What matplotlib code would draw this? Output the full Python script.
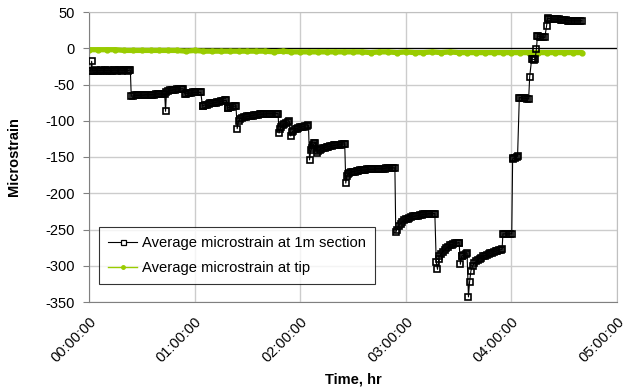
import matplotlib
matplotlib.use("Agg")
import matplotlib.pyplot as plt
from matplotlib.ticker import FixedLocator
from matplotlib.lines import Line2D

# ---- data (time in minutes from start) ----
time_1m = [0, 1, 1.5, 2, 3, 4, 5, 6, 7, 8, 9, 10, 11, 12, 13, 14, 15, 16, 17, 18, 19, 20, 21, 22, 23, 23.5,
           24, 25, 26, 27, 28, 29, 30, 31, 32, 33, 34, 35, 36, 37, 38, 39, 40, 41, 42, 43, 43.5,
           44, 45, 46, 47, 48, 49, 50, 51, 52, 53, 53.5,
           54.5, 55, 56, 57, 58, 59, 60, 61, 62, 63, 63.5,
           64.5, 65, 66, 67, 68, 69, 70, 71, 72, 73, 74, 75, 76, 77, 78,
           78.8, 79, 80, 81, 82, 83, 83.5,
           84.2, 85, 86, 87, 88, 89, 90, 91, 92, 93, 94, 95, 96, 97, 98, 99, 100, 101, 102, 103, 104, 105, 106, 107, 107.4,
           108, 108.7, 109, 110, 111, 112, 113, 113.8,
           114.6, 115.3, 116, 117, 118, 119, 120, 121, 122, 123, 124, 124.7,
           125.3, 126, 126.5, 127, 127.5, 128, 128.5,
           129.5, 130, 131, 132, 133, 134, 135, 136, 137, 138, 139, 140, 141, 142, 143, 144, 145, 145.3,
           145.9, 146.5, 147, 148, 149, 150, 151, 152, 153, 154, 155, 156, 157, 158, 159, 160, 161, 162, 163, 164,
           165, 166, 167, 168, 169, 170, 171, 172, 173, 173.8,
           174.3, 175, 176, 177, 178, 179, 180, 181, 182, 183, 184, 185, 186, 187, 188, 189, 190, 191, 192, 193,
           194, 195, 196, 196.5,
           197.3, 198, 198.8, 199, 200, 201, 202, 203, 204, 205, 206, 207, 208, 209, 210, 210.3,
           211, 211.8, 212, 213, 214, 214.8,
           215.6, 216.2, 217, 218, 219, 220, 221, 222, 223, 224, 225, 226, 227, 228, 229, 230, 231, 232, 233, 234, 234.7,
           235.2, 236, 237, 238, 239, 240.2,
           240.7, 241, 242, 243, 243.5,
           244.5, 245, 246, 247, 248, 249, 249.8,
           250.4, 251.5, 252, 253, 253.5, 254.2,
           254.8, 255, 256, 257, 258, 259,
           260, 260.6, 261, 262, 263, 264, 265, 266, 267, 268, 269, 270, 271, 272, 273, 274, 275, 276, 277, 278, 279, 280]
strain_1m = [-31, -31, -18, -31, -31, -30, -31, -31, -30, -31, -30, -31, -30, -31, -31, -30, -30, -31, -30, -30, -31, -30, -30, -31, -30, -30,
             -66, -66, -65, -65, -65, -65, -65, -65, -64, -64, -64, -64, -64, -64, -63, -63, -63, -63, -63, -63, -87,
             -60, -59, -58, -58, -57, -57, -56, -56, -56, -56, -56,
             -63, -63, -62, -62, -62, -61, -61, -61, -61, -61, -61,
             -80, -79, -78, -78, -77, -76, -76, -75, -75, -74, -74, -73, -73, -72, -72,
             -83, -82, -81, -81, -80, -80, -79,
             -111, -100, -97, -96, -95, -95, -94, -94, -93, -93, -92, -92, -92, -91, -91, -91, -91, -90, -90, -90, -90, -90, -90, -90, -90,
             -117, -111, -108, -106, -104, -103, -102, -101,
             -121, -116, -114, -112, -111, -110, -109, -108, -108, -107, -107, -106,
             -154, -141, -138, -135, -133, -131, -130,
             -144, -142, -140, -139, -138, -137, -136, -136, -135, -135, -134, -134, -133, -133, -133, -132, -132, -132,
             -186, -176, -174, -172, -171, -170, -170, -169, -169, -168, -168, -168, -168, -167, -167, -167, -167, -167, -166, -166,
             -166, -166, -166, -166, -165, -165, -165, -165, -165, -165,
             -254, -250, -245, -242, -239, -237, -236, -235, -234, -233, -232, -232, -231, -231, -230, -230, -229, -229, -229, -228,
             -228, -228, -228, -228,
             -295, -305, -290, -287, -284, -281, -278, -276, -274, -272, -271, -270, -269, -269, -268, -268,
             -298, -287, -286, -285, -284, -283,
             -343, -323, -307, -300, -296, -294, -292, -290, -289, -287, -286, -285, -284, -283, -282, -281, -280, -279, -278, -278, -277,
             -256, -256, -256, -256, -256, -256,
             -153, -152, -151, -150, -149,
             -68, -68, -69, -69, -69, -70, -70,
             -39, -15, -15, -16, -15, -1,
             17, 17, 16, 16, 15, 15,
             31, 42, 41, 41, 41, 40, 40, 40, 40, 39, 39, 39, 39, 38, 38, 38, 38, 38, 38, 38, 38, 38]

time_tip = [0, 5, 10, 15, 20, 25, 30, 35, 40, 45, 50, 55, 60, 65, 70, 75, 80, 85,
            90, 95, 100, 105, 110, 115, 120, 125, 130, 135, 140, 145, 150, 155, 160,
            165, 170, 175, 180, 185, 190, 195, 200, 205, 210, 215, 220, 225, 230,
            235, 240, 245, 250, 255, 260, 265, 270, 275, 280]
strain_tip = [-2, -2, -2, -2, -3, -3, -3, -3, -3, -3, -3, -4, -3, -4, -4, -4, -4, -4,
              -4, -4, -4, -5, -4, -5, -5, -5, -5, -5, -5, -5, -5, -5, -6,
              -5, -5, -6, -5, -6, -6, -5, -6, -5, -6, -6, -6, -6, -6,
              -6, -6, -6, -6, -6, -6, -6, -6, -6, -6]

xtick_min = [0, 60, 120, 180, 240, 300]
xtick_labels = ["00:00:00", "01:00:00", "02:00:00", "03:00:00", "04:00:00", "05:00:00"]
ytick_vals = [50, 0, -50, -100, -150, -200, -250, -300, -350]
series_names = ['Average microstrain at 1m section', 'Average microstrain at tip']

assert len(time_1m) == len(strain_1m)
assert len(time_tip) == len(strain_tip)

plt.rcParams['font.family'] = ['Liberation Sans', 'DejaVu Sans']

fig = plt.figure(figsize=(6.29, 3.89), dpi=100)
ax = fig.add_axes([89/629, 1 - 302/389, (617-89)/629, (302-12)/389])

ax.set_xlim(0, 300)
ax.set_ylim(-350, 50)

ax.xaxis.set_major_locator(FixedLocator(xtick_min))
ax.yaxis.set_major_locator(FixedLocator(ytick_vals))
ax.grid(True, color='#cccccc', linewidth=1)
ax.set_axisbelow(True)
ax.axhline(0, color='black', linewidth=0.9, zorder=1.5)

black_color = 'black'
green_color = '#99cc00'
ax.plot(time_1m, strain_1m, color=black_color, linewidth=0.8, marker='s',
        markersize=3.8, markerfacecolor='none', markeredgecolor=black_color,
        markeredgewidth=1.2, zorder=3)
ax.plot(time_tip, strain_tip, color=green_color, linewidth=3.8, marker='o',
        markersize=3.5, markerfacecolor=green_color, markeredgecolor=green_color,
        solid_capstyle='round', zorder=2.5)

ax.set_xticklabels(xtick_labels, rotation=45, ha='right', rotation_mode='anchor',
                   fontsize=10.5)
ax.set_yticklabels([str(v) for v in ytick_vals], fontsize=10.5)
ax.tick_params(axis='x', length=0, pad=9)
ax.tick_params(axis='y', length=4, pad=6.5, direction='out', color='#808080')

for side in ['top', 'right']:
    ax.spines[side].set_color('#c0c0c0')
for side in ['left', 'bottom']:
    ax.spines[side].set_color('#808080')

ax.set_xlabel('Time, hr', fontsize=10.5, fontweight='bold')
ax.xaxis.set_label_coords(0.5, -0.243)
ax.set_ylabel('Microstrain', fontsize=10.5, fontweight='bold')
ax.yaxis.set_label_coords(-0.128, 0.5)

handles = [
    Line2D([], [], color=black_color, linewidth=0.8, marker='s', markersize=3.6,
           markerfacecolor='white', markeredgecolor=black_color, markeredgewidth=0.9),
    Line2D([], [], color=green_color, linewidth=1.0, marker='o', markersize=2.5,
           markerfacecolor=green_color, markeredgecolor=green_color),
]
leg = ax.legend(handles, series_names, loc='lower left', bbox_to_anchor=(0.019, 0.062),
                borderaxespad=0, frameon=True, fancybox=False, edgecolor='black',
                fontsize=10.6, handlelength=2.0, handletextpad=0.35,
                borderpad=0.6, labelspacing=0.75)
leg.get_frame().set_linewidth(0.8)

fig.savefig('out.png', dpi=100)
